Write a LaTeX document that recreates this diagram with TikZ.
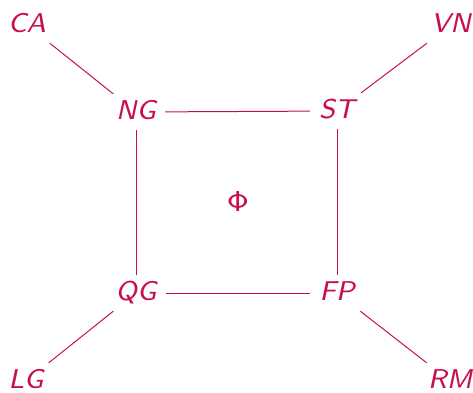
\documentclass[tikz,border=0pt]{standalone}
\usepackage{graphicx}
\definecolor{crim}{RGB}{198,16,78}
\newcommand\bigtxt[1]{\scalebox{3.4}{\fontsize{8}{9}\selectfont\sffamily\slshape #1}}
\tikzset{
  lbl/.style={text=crim, anchor=base,
    text height=22pt, text depth=8pt, inner xsep=9pt, inner ysep=3pt},
  conn/.style={draw=crim, line width=1pt}
}
\begin{document}
\begin{tikzpicture}[x=1pt,y=1pt]
\useasboundingbox (0,0) rectangle (473,-392);
\node[lbl] (CA) at (27,-32) {\bigtxt{CA}};
\node[lbl] (VN) at (451,-32) {\bigtxt{VN}};
\node[lbl] (NG) at (136,-119) {\bigtxt{NG}};
\node[lbl] (ST) at (337,-118) {\bigtxt{ST}};
\node[lbl] (QG) at (136,-300) {\bigtxt{QG}};
\node[lbl] (FP) at (337,-300) {\bigtxt{FP}};
\node[lbl] (LG) at (26,-388) {\bigtxt{LG}};
\node[lbl] (RM) at (450,-388) {\bigtxt{RM}};
\node[text=crim] (PHI) at (238,-201) {\scalebox{3.6}{\fontsize{8}{9}\selectfont$\mathsf{\Phi}$}};
\draw[conn] (CA) -- (NG);
\draw[conn] (VN) -- (ST);
\draw[conn] (LG) -- (QG);
\draw[conn] (RM) -- (FP);
\draw[conn] (NG) -- (ST);
\draw[conn] (NG) -- (QG);
\draw[conn] (ST) -- (FP);
\draw[conn] (QG) -- (FP);
\end{tikzpicture}
\end{document}
